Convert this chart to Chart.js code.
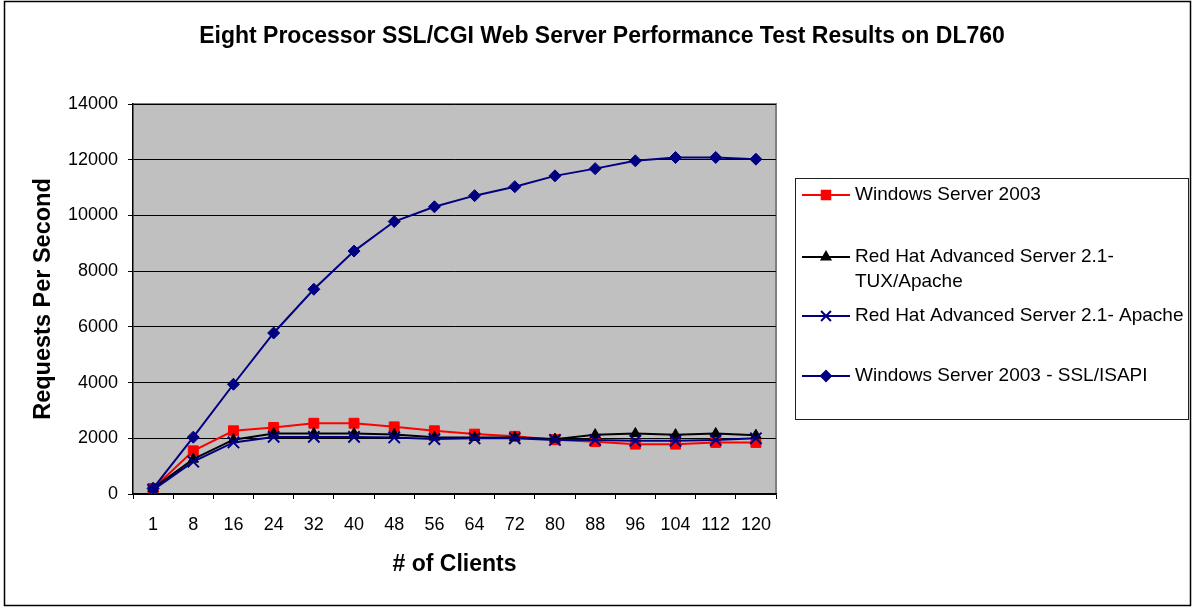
<!DOCTYPE html>
<html>
<head>
<meta charset="utf-8">
<script src="https://cdn.jsdelivr.net/npm/chart.js@4/dist/chart.umd.min.js"></script>
<style>
    html, body { margin: 0; padding: 0; background: #fff; }
    #wrap { position: relative; width: 1194px; height: 607px; }
</style>
</head>
<body>
<div id="wrap"><canvas id="chart" width="1194" height="607"></canvas></div>
<script>
// values
const clients = ['1', '8', '16', '24', '32', '40', '48', '56', '64', '72', '80', '88', '96', '104', '112', '120'];
const win2003 = [200, 1550, 2270, 2390, 2540, 2540, 2410, 2270, 2150, 2070, 1950, 1880, 1790, 1790, 1850, 1850];
const rhTuxApache = [200, 1250, 1950, 2170, 2170, 2170, 2140, 2040, 2030, 2030, 1970, 2130, 2170, 2130, 2170, 2110];
const rhApache = [150, 1160, 1850, 2050, 2050, 2050, 2030, 1970, 2000, 2000, 1940, 1940, 1910, 1910, 1940, 2000];
const win2003Ssl = [200, 2040, 3940, 5780, 7350, 8720, 9780, 10310, 10710, 11030, 11420, 11680, 11960, 12080, 12080, 12020];
const yTicks = [0, 2000, 4000, 6000, 8000, 10000, 12000, 14000];

const chartTitle = 'Eight Processor SSL/CGI Web Server Performance Test Results on DL760';
const FONT = 'Arial, "Liberation Sans", sans-serif';

const series = [
    { label: 'Windows Server 2003', data: win2003, color: '#ff0000', style: 'rect', radius: 7, order: 4 },
    { label: ['Red Hat Advanced Server 2.1-', 'TUX/Apache'], data: rhTuxApache, color: '#000000', style: 'triangle', radius: 6, order: 3 },
    { label: 'Red Hat Advanced Server 2.1- Apache', data: rhApache, color: '#000080', style: 'crossRot', radius: 8, order: 2 },
    { label: 'Windows Server 2003 - SSL/ISAPI', data: win2003Ssl, color: '#000080', style: 'rectRot', radius: 6, order: 1 }
];

// legend rows: y of first text line for each entry
const legendRows = [195, 257, 316, 376];

const framePlugin = {
    id: 'excelFrame',
    beforeDraw(chart) {
        const { ctx, chartArea: a } = chart;
        ctx.save();
        ctx.fillStyle = '#fff';
        ctx.fillRect(0, 0, chart.width, chart.height);
        ctx.fillStyle = '#c0c0c0';
        ctx.fillRect(a.left, a.top, a.right - a.left, a.bottom - a.top);
        ctx.strokeStyle = '#808080';
        ctx.lineWidth = 2;
        ctx.beginPath();
        ctx.moveTo(a.left, a.top);
        ctx.lineTo(a.right, a.top);
        ctx.lineTo(a.right, a.bottom);
        ctx.stroke();

        // title, centred on the whole picture
        ctx.fillStyle = '#000';
        ctx.font = 'bold 23px ' + FONT;
        ctx.textAlign = 'center';
        ctx.textBaseline = 'middle';
        ctx.fillText(chartTitle, 602, 37);
        ctx.restore();
    },
    afterDraw(chart) {
        const { ctx } = chart;
        ctx.save();
        // outer chart border
        ctx.strokeStyle = '#000';
        ctx.lineWidth = 1.5;
        ctx.strokeRect(4.5, 1.5, 1186, 604);

        // legend box
        ctx.lineWidth = 1;
        ctx.strokeStyle = '#202020';
        ctx.strokeRect(795.5, 178.5, 393, 241);

        ctx.font = '19px ' + FONT;
        ctx.textBaseline = 'middle';
        ctx.textAlign = 'left';
        series.forEach((s, i) => {
            const y = legendRows[i];
            ctx.strokeStyle = s.color;
            ctx.lineWidth = 2;
            ctx.beginPath();
            ctx.moveTo(802, y);
            ctx.lineTo(850, y);
            ctx.stroke();
            ctx.fillStyle = s.color;
            Chart.helpers.drawPoint(ctx, {
                pointStyle: s.style, radius: s.radius - 1, rotation: 0,
                borderWidth: s.style === 'crossRot' ? 1.5 : 1
            }, 826, y);
            ctx.fillStyle = '#000';
            const lines = Array.isArray(s.label) ? s.label : [s.label];
            lines.forEach((t, j) => ctx.fillText(t, 855, y + j * 25));
        });
        ctx.restore();
    }
};

new Chart(document.getElementById('chart'), {
    type: 'line',
    data: {
        labels: clients,
        datasets: series.map(s => ({
            label: Array.isArray(s.label) ? s.label.join(' ') : s.label,
            data: s.data,
            borderColor: s.color,
            backgroundColor: s.color,
            pointBackgroundColor: s.color,
            pointBorderColor: s.color,
            pointStyle: s.style,
            pointRadius: s.radius,
            pointBorderWidth: s.style === 'crossRot' ? 2 : 1,
            borderWidth: 2,
            tension: 0,
            order: s.order
        }))
    },
    options: {
        responsive: false,
        animation: false,
        layout: { padding: { left: 10, right: 418, top: 104, bottom: 10 } },
        plugins: {
            legend: { display: false },
            tooltip: { enabled: false },
            title: { display: false }
        },
        scales: {
            x: {
                offset: true,
                grid: {
                    offset: true, drawOnChartArea: false, drawTicks: true,
                    tickLength: 5, tickColor: '#000', color: '#000'
                },
                border: { color: '#000', width: 1.5 },
                ticks: { color: '#000', font: { family: FONT, size: 18 }, padding: 15, maxRotation: 0, autoSkip: false },
                title: {
                    display: true, text: '# of Clients', color: '#000',
                    font: { family: FONT, size: 23, weight: 'bold' },
                    padding: { top: 0, bottom: 19 }
                },
                afterFit(scale) { scale.height = 103; }
            },
            y: {
                min: 0,
                max: 14000,
                afterBuildTicks(scale) { scale.ticks = yTicks.map(v => ({ value: v })); },
                grid: { color: '#000', lineWidth: 1, tickLength: 5, tickColor: '#000' },
                border: { color: '#000', width: 1.5 },
                ticks: { color: '#000', font: { family: FONT, size: 18 }, padding: 10, callback: v => String(v) },
                title: {
                    display: true, text: 'Requests Per Second', color: '#000',
                    font: { family: FONT, size: 23.5, weight: 'bold' },
                    padding: { top: 19, bottom: 0 }
                },
                afterFit(scale) { scale.width = 123; }
            }
        }
    },
    plugins: [framePlugin]
});
</script>
</body>
</html>
